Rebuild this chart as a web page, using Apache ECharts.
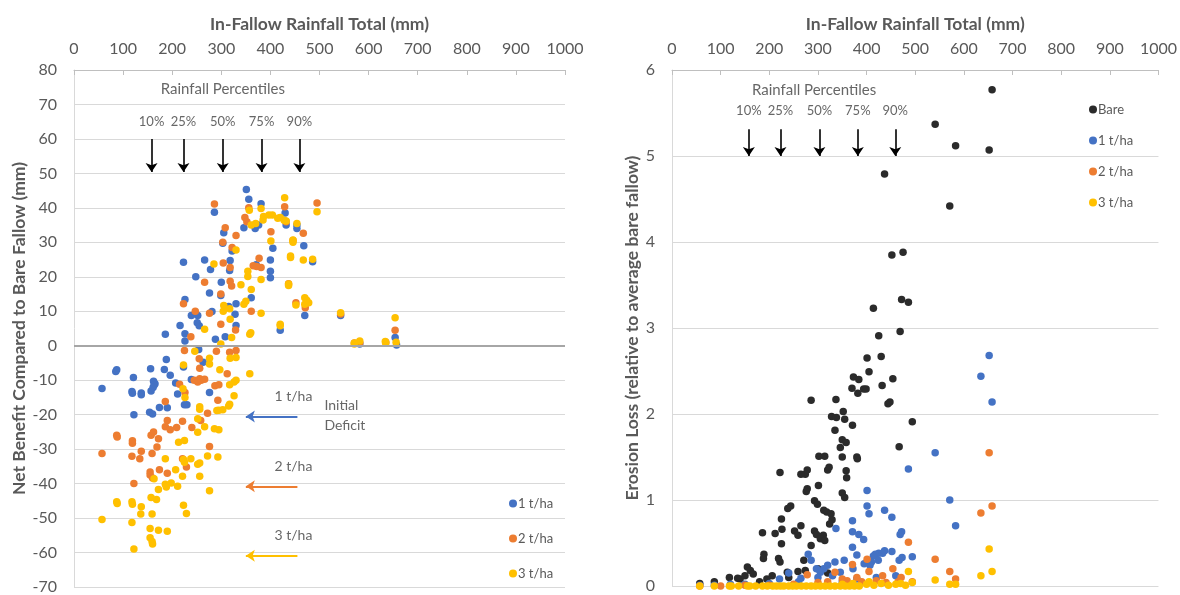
<!DOCTYPE html>
<html>
<head>
<meta charset="utf-8">
<script src="https://cdn.jsdelivr.net/npm/echarts@6/dist/echarts.min.js"></script>
<style>
  html, body { margin: 0; padding: 0; background: #fff; }
  #chart { width: 1180px; height: 595px; }
</style>
</head>
<body>
<div id="chart"></div>
<script>
// In-fallow rainfall (mm) vs. net benefit of stubble cover (mm), one array per cover level
const netBenefit1 = [
  [351,45.3],[356,42.5],[286,38.7],[430,38.5],[381,41.2],[346,34.2],[305,32.8],[303,29.7],[322,27.5],[318,24.7],
  [317,21.8],[266,24.9],[223,24.2],[278,22.1],[248,20],[300,18.4],[276,15.3],[299,14.6],[226,13.4],[330,12.2],
  [315,11.4],[239,8.8],[252,8.8],[281,9.9],[328,9.1],[251,6.7],[255,5.8],[216,5.9],[330,5.9],[186,3.3],
  [226,3.5],[226,1.4],[288,1.9],[308,2.6],[254,-1.1],[263,-4.8],[223,-6.2],[87,-7],[85,-7.5],[121,-9.2],
  [156,-6.7],[184,-6.9],[188,-4],[196,-8.6],[207,-10.8],[162,-10.3],[165,-11],[239,-9.8],
  [369,34],[376,35],[432,35],[454,35],[454,34],[468,29],[405,28.3],[486,24.4],[400,24.9],[371,23.5],
  [400,21.6],[400,19.7],[361,13.9],[470,8.8],[420,4.5],[543,8.8],[582,0.5],[654,2.4],[657,0.2],
  [57,-12.4],[118,-13.3],[119,-13.8],[137,-13.7],[137,-14.2],[157,-13.1],[163,-11.5],[161,-12.1],[211,-14],
  [225,-17.1],[230,-17.1],[174,-17.9],[190,-18],[154,-19.3],[160,-19.8],[122,-20],[276,-13.6]
];
const netBenefit2 = [
  [286,41.1],[356,40],[429,40.3],[495,41.4],[348,37.2],[352,36],[308,34.2],[322,28.5],[318,22.7],[304,24],
  [266,18.4],[318,18.7],[321,17.3],[299,15],[223,12.2],[247,10],[276,9.4],[361,10],[299,6.2],[329,4.6],
  [238,2.6],[225,-1.4],[290,-1.6],[317,-1.9],[330,-1.4],[255,-3.8],[256,-6.5],[312,-8.1],[256,-9.6],[245,-10],
  [401,33.1],[467,32.6],[432,36],[446,30.5],[377,25.4],[381,22.7],[365,23.2],[372,23],[437,18],[452,12.5],
  [471,11],[654,4.5],[543,9.2],[303,30],[330,32],[571,0.8],[582,0.9],[635,1],
  [215,-11.2],[226,-13.6],[252,-10.5],[259,-10],[266,-9.7],[287,-11.6],[295,-11.3],[293,-15.8],[186,-16.2],[272,-19.6],
  [190,-21.7],[186,-23.5],[209,-23.7],[221,-21.9],[240,-23.7],[258,-21.7],[157,-26],[162,-25],[172,-27],[196,-24.4],
  [87,-26],[88,-26.5],[119,-27.6],[119,-28.3],[137,-30.6],[134,-32.8],[118,-32.1],[159,-31.3],[169,-29.4],[57,-31.3],
  [122,-40],[155,-36.6],[155,-37.5],[160,-38.4],[174,-36],[190,-37],[221,-32.8],[229,-35.2],[276,-29.2]
];
const netBenefit3 = [
  [357,39.3],[381,39.8],[429,42.9],[495,38.9],[330,27.8],[285,23.7],[340,17.7],[305,11.7],[317,10.7],[304,10],
  [381,9.4],[266,4.8],[318,7.7],[321,2.4],[299,0.5],[246,-1.6],[318,-3.6],[330,-3.4],[276,-3.6],[276,-5.3],
  [223,-5.6],[297,-7],[358,-8.1],[330,-10],
  [361,35],[370,35.5],[385,36.5],[386,37.5],[397,37.9],[404,37.9],[415,37],[420,37.2],[428,36.4],[432,36.2],
  [454,35.5],[401,30.4],[446,30.7],[446,30],[441,26],[441,25.6],[467,24.9],[486,25.1],[354,21.6],[354,20.1],
  [381,19.2],[437,17.9],[437,17.5],[361,16.3],[350,12.9],[346,12],[470,13.9],[474,13.2],[478,12.5],[470,12],
  [452,11.8],[420,6.2],[420,5.8],[360,3.8],[358,3.3],[543,9.6],[571,0.8],[571,0.5],[582,1.4],[635,0.8],
  [634,1.2],[654,8.1],[656,1],
  [213,-28],[225,-27.5],[252,-25.1],[252,-21.2],[256,-18.4],[256,-17.7],[266,-23.5],[291,-18.8],[295,-18.7],[303,-18.6],
  [315,-17.5],[317,-17],[326,-14.5],[317,-11.3],[326,-10.5],[286,-24.1],[295,-24.4],[293,-32.3],[272,-32],[256,-34],
  [252,-34.4],[238,-32.8],[223,-33],[225,-33.8],[207,-36],[186,-32.8],[256,-37.9],[276,-42.1],[221,-37.9],[211,-40.8],
  [186,-40.2],[188,-41],[198,-39.8],[172,-41.7],[163,-38.6],[157,-44],[168,-44.6],[87,-45.3],[88,-45.8],[118,-45.3],
  [119,-46],[137,-46.7],[136,-48.8],[159,-48.8],[223,-46.3],[229,-48.7],[57,-50.4],[118,-51.3],[155,-53],[172,-53.5],
  [190,-53.8],[155,-55.7],[159,-56.8],[160,-57.5],[122,-59],[226,-15],[222,-12.5]
];

// In-fallow rainfall (mm) vs. erosion loss relative to the average bare fallow
const erosionBare = [
  [658,5.77],[541,5.37],[583,5.12],[652,5.07],[437,4.79],
  [571,4.42],[452,3.85],[475,3.88],[414,3.23],[472,3.33],[486,3.3],[425,2.91],[469,2.96],[401,2.65],[430,2.67],
  [405,2.49],[373,2.43],[384,2.4],[454,2.41],[370,2.3],[394,2.29],[399,2.29],[432,2.33],[382,2.24],
  [286,2.16],[337,2.17],[328,1.97],[338,1.96],[352,2.03],[335,1.81],[355,1.94],[371,1.87],[444,2.12],[448,2.14],
  [494,1.91],[467,1.62],[346,1.61],[350,1.7],[358,1.67],[380,1.5],[381,1.48],[350,1.5],[320,1.35],[323,1.38],
  [302,1.51],[314,1.51],[278,1.35],[274,1.3],[222,1.32],[265,1.3],[301,1.17],[278,1.13],[276,1.1],[358,1.34],
  [359,1.26],[350,1.08],[355,1.03],[293,0.99],[299,0.95],[244,0.93],[238,0.9],[225,0.78],[312,0.88],[318,0.86],
  [327,0.84],[329,0.77],[324,0.72],[265,0.7],[252,0.64],[259,0.59],[293,0.64],[297,0.6],[311,0.59],[305,0.55],
  [314,0.53],[186,0.62],[212,0.61],[226,0.66],[225,0.49],[286,0.47],[189,0.37],[188,0.32],[219,0.32],[222,0.28],
  [271,0.3],[155,0.22],[161,0.18],[167,0.14],[118,0.1],[135,0.09],[87,0.05],[206,0.12],[237,0.16],[259,0.17],
  [274,0.18],[57,0.03],[140,0.08],[150,0.12],[180,0.05],[195,0.08],[240,0.1],[300,0.2],[320,0.15]
];
const erosion1 = [
  [652,2.68],[635,2.44],[658,2.14],[541,1.55],[486,1.36],[401,1.11],[571,1.0],[583,0.7],[401,0.93],[405,0.84],
  [437,0.88],[452,0.8],[337,0.67],[371,0.76],[371,0.63],[384,0.6],[394,0.54],[371,0.45],[469,0.6],[472,0.63],
  [494,0.34],[467,0.3],[473,0.33],[452,0.4],[437,0.41],[425,0.38],[418,0.37],[414,0.35],[424,0.3],[410,0.28],
  [433,0.38],[380,0.36],[280,0.37],[286,0.3],[354,0.3],[335,0.28],[297,0.2],[312,0.2],[320,0.24],[240,0.15],
  [265,0.09],[305,0.16],[221,0.08],[395,0.26],[407,0.24],[372,0.2],[346,0.16],[330,0.12],[300,0.1],[260,0.05],
  [200,0.03],[150,0.02],[120,0.02],[87,0.01],[57,0.01],[350,0.05],[380,0.08],[420,0.1],[460,0.12]
];
const erosion2 = [
  [652,1.55],[658,0.93],[635,0.85],[541,0.31],[571,0.17],[583,0.08],[486,0.51],[401,0.31],[371,0.25],[278,0.13],
  [454,0.2],[405,0.17],[433,0.12],[471,0.1],[380,0.1],[335,0.16],[350,0.08],[360,0.06],[390,0.05],[420,0.06],
  [440,0.04],[465,0.05],[300,0.04],[320,0.05],[250,0.02],[200,0.01],[150,0.01],[100,0],[57,0],[494,0.05]
];
const erosion3 = [
  [652,0.43],[658,0.17],[635,0.12],[541,0.07],[571,0.02],[583,0.02],[486,0.17],[494,0.04],
  [57,0],[87,0],[118,0],[122,0],[137,0],[155,0],[160,0],[172,0],[186,0],[196,0],
  [207,0],[215,0],[223,0],[230,0],[240,0],[248,0],[256,0],[266,0],[276,0],[286,0],
  [295,0],[305,0],[315,0],[325,0],[335,0],[346,0],[356,0],[365,0],[375,0],[385,0],
  [400,0.02],[415,0.01],[430,0.03],[445,0.01],[460,0.02],[470,0.03],[480,0.01],[405,0.05],[372,0.03],[350,0.02]
];

// Rainfall percentiles of the in-fallow record
const percentileRain = [158, 223, 303, 382, 459];
const percentileNames = ['10%', '25%', '50%', '75%', '90%'];
// Initial deficit of each cover level (mm)
const deficitLevels = [-20.5, -40.8, -60.9];
const coverNames = ['1 t/ha', '2 t/ha', '3 t/ha'];

const FONT = 'Lato, "Liberation Sans", sans-serif';
const GREY = '#595959';
const GRID_LINE = '#D9D9D9';
const coverColors = ['#4472C4', '#ED7D31', '#FFC000'];
const bareColor = '#2B2B2B';
const TITLE_SIZE = 17.5;

function xAxisFor(gridIndex) {
  return {
    gridIndex, type: 'value', position: 'top', min: 0, max: 1000, interval: 100,
    name: 'In-Fallow Rainfall Total (mm)', nameLocation: 'middle', nameGap: 37,
    nameTextStyle: { fontFamily: FONT, fontWeight: 'bold', fontSize: TITLE_SIZE, color: GREY },
    axisLine: { show: true, onZero: false, lineStyle: { color: '#BFBFBF', width: 1 } },
    axisTick: { show: true, inside: true, length: 5, lineStyle: { color: '#BFBFBF' } },
    axisLabel: { fontFamily: FONT, fontSize: 16, color: GREY, margin: 13, formatter: v => String(v) },
    splitLine: { show: false }
  };
}

function yAxisFor(gridIndex, min, max, interval, name, nameGap) {
  return {
    gridIndex, type: 'value', min, max, interval,
    name, nameLocation: 'middle', nameGap, nameRotate: 90,
    nameTextStyle: { fontFamily: FONT, fontWeight: 'bold', fontSize: TITLE_SIZE, color: GREY },
    axisLine: { show: true, onZero: false, lineStyle: { color: GRID_LINE } },
    axisTick: { show: false },
    axisLabel: { fontFamily: FONT, fontSize: 16, color: GREY, margin: 17, formatter: v => String(v) },
    splitLine: { show: true, lineStyle: { color: GRID_LINE, width: 1 } }
  };
}

function dots(name, data, color, xi, yi) {
  return {
    name, type: 'scatter', xAxisIndex: xi, yAxisIndex: yi, data,
    symbol: 'circle', symbolSize: 7.5,
    itemStyle: { color, opacity: 1 },
    emphasis: { disabled: true }, animation: false, z: 3
  };
}

function textLayer(xi, yi, items, extra) {
  return Object.assign({
    type: 'scatter', xAxisIndex: xi, yAxisIndex: yi,
    symbol: 'circle', symbolSize: 0, silent: true, animation: false, z: 5,
    data: items.map(t => ({
      value: [t.x, t.y],
      label: {
        show: true, position: 'inside', formatter: t.text,
        fontFamily: FONT, fontSize: t.size || 14, color: '#404040',
        align: t.align || 'center', lineHeight: 20
      }
    }))
  }, extra || {});
}

// Left panel text: percentile header and labels, cover-level labels
const leftText = [
  { x: 303, y: 74.3, text: 'Rainfall Percentiles', size: 15 },
  ...percentileRain.map((x, i) => ({ x, y: 65.1, text: percentileNames[i], size: 13 })),
  ...coverNames.map((n, i) => ({ x: 447, y: deficitLevels[i] + 5.8, text: n })),
  { x: 510, y: -20.2, text: 'Initial\nDeficit', align: 'left' }
];
const rightText = [
  { x: 292, y: 5.76, text: 'Rainfall Percentiles', size: 15 },
  ...percentileRain.map((x, i) => ({ x, y: 5.53, text: percentileNames[i], size: 13 }))
];

function downArrow(x, yTop, yTip) {
  return [
    { coord: [x, yTop], lineStyle: { color: '#000', width: 1.6 } },
    { coord: [x, yTip], symbol: 'arrow', symbolSize: 9 }
  ];
}

const leftAnno = textLayer(0, 0, leftText, {
  markLine: {
    silent: true, animation: false, label: { show: false },
    symbol: ['none', 'none'],
    lineStyle: { type: 'solid' },
    data: [
      { yAxis: 0, lineStyle: { color: '#A6A6A6', width: 2 } },
      ...percentileRain.map(x => downArrow(x, 60, 50.4)),
      ...deficitLevels.map((v, i) => [
        { coord: [455, v], lineStyle: { color: coverColors[i], width: 2 } },
        { coord: [350, v], symbol: 'arrow', symbolSize: 9 }
      ])
    ]
  }
});

const rightAnno = textLayer(1, 1, rightText, {
  markLine: {
    silent: true, animation: false, label: { show: false },
    symbol: ['none', 'none'],
    lineStyle: { type: 'solid' },
    data: percentileRain.map(x => downArrow(x, 5.31, 5.0))
  }
});

const legendBase = {
  orient: 'vertical', icon: 'circle', itemWidth: 8, itemHeight: 8,
  textStyle: { fontFamily: FONT, fontSize: 13, color: GREY, padding: [0, 0, 0, -4] },
  selectedMode: false
};

const option = {
  backgroundColor: '#fff',
  animation: false,
  grid: [
    { left: 74, top: 70, width: 491, height: 519, containLabel: false },
    { left: 672, top: 70, width: 490, height: 516, containLabel: false }
  ],
  xAxis: [xAxisFor(0), xAxisFor(1)],
  yAxis: [
    yAxisFor(0, -70, 80, 10, 'Net Benefit Compared to Bare Fallow (mm)', 45),
    yAxisFor(1, 0, 6, 1, 'Erosion Loss (relative to average bare fallow)', 31)
  ],
  legend: [
    Object.assign({}, legendBase, { data: coverNames, left: 504, top: 492, itemGap: 22 }),
    Object.assign({}, legendBase, { data: ['Bare'].concat(coverNames), left: 1084, top: 98, itemGap: 18 })
  ],
  series: [
    dots('1 t/ha', netBenefit1, coverColors[0], 0, 0),
    dots('2 t/ha', netBenefit2, coverColors[1], 0, 0),
    dots('3 t/ha', netBenefit3, coverColors[2], 0, 0),
    leftAnno,
    dots('Bare', erosionBare, bareColor, 1, 1),
    dots('1 t/ha', erosion1, coverColors[0], 1, 1),
    dots('2 t/ha', erosion2, coverColors[1], 1, 1),
    dots('3 t/ha', erosion3, coverColors[2], 1, 1),
    rightAnno
  ]
};

const chart = echarts.init(document.getElementById('chart'), null, { renderer: 'canvas' });
chart.setOption(option);
</script>
</body>
</html>
